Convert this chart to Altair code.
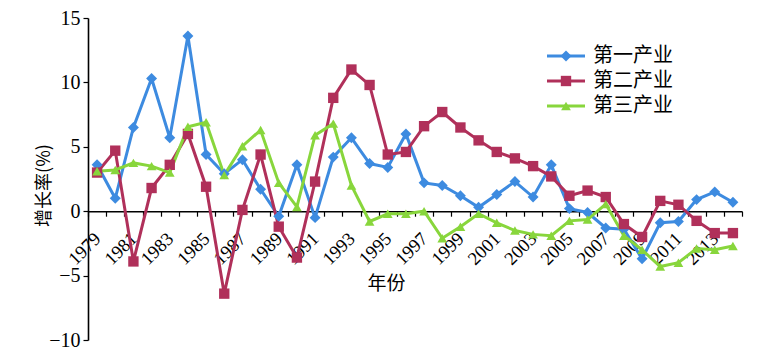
import altair as alt
import pandas as pd

years = list(range(1979, 2015))
primary = [3.6, 1.0, 6.5, 10.3, 5.7, 13.6, 4.4, 2.9, 4.0, 1.7, -0.4, 3.6, -0.5, 4.2, 5.7, 3.7,
           3.4, 6.0, 2.2, 2.0, 1.2, 0.3, 1.3, 2.3, 1.1, 3.6, 0.2, -0.1, -1.3, -1.4, -3.7, -0.9,
           -0.8, 0.9, 1.5, 0.7]
secondary = [3.0, 4.7, -3.9, 1.8, 3.6, 6.0, 1.9, -6.4, 0.1, 4.4, -1.2, -3.6, 2.3, 8.8, 11.0, 9.8,
             4.4, 4.6, 6.6, 7.7, 6.5, 5.5, 4.6, 4.1, 3.5, 2.7, 1.2, 1.6, 1.1, -1.0, -2.0, 0.8,
             0.5, -0.75, -1.7, -1.7]
tertiary = [3.1, 3.2, 3.75, 3.5, 3.0, 6.55, 6.9, 2.8, 5.05, 6.3, 2.2, 0.33, 5.9, 6.8, 2.0, -0.8,
            -0.2, -0.2, 0.0, -2.1, -1.2, -0.2, -0.9, -1.5, -1.8, -1.9, -0.75, -0.65, 0.55, -1.9,
            -3.0, -4.3, -4.0, -2.9, -3.0, -2.7]
names = ["第一产业", "第二产业", "第三产业"]
colors = ["#3D8BE0", "#B0305A", "#88D63C"]
shapes = ["diamond", "square", "triangle-up"]
marker_sizes = [120, 95, 170]
y_ticks = [-10, -5, 0, 5, 10, 15]

rows = []
for name, vals in zip(names, [primary, secondary, tertiary]):
    for yr, v in zip(years, vals):
        rows.append({"year": yr, "value": v, "series": name, "series_p": name})
df = pd.DataFrame(rows)

W, H = 654, 322
ymin, ymax = -10, 15
zero_off = -H * (0 - ymin) / (ymax - ymin)

SERIF = "Liberation Serif"
CJK = "Noto Sans CJK SC"

x_enc = alt.X(
    "year:O",
    scale=alt.Scale(type="band", paddingInner=0, paddingOuter=0),
    axis=alt.Axis(
        title="年份", titleFont=CJK, titleFontSize=19, titleFontWeight="normal",
        titleX=279, titleY=72, titleBaseline="middle", titleAnchor="start",
        offset=zero_off, labelAngle=-45, labelAlign="right", labelBaseline="middle",
        labelExpr="datum.value % 2 == 1 ? datum.label : ''",
        labelOverlap=False, labelBound=False, labelFont=SERIF, labelFontSize=18.5,
        labelColor="black", labelPadding=19, labelOffset=0,
        tickBand="extent", tickSize=5, tickColor="black", domainColor="black",
        domainWidth=1.6, tickWidth=1.2, grid=False,
    ),
)
y_enc = alt.Y(
    "value:Q",
    scale=alt.Scale(domain=[ymin, ymax], nice=False, zero=False),
    axis=alt.Axis(
        values=y_ticks, title="增长率(%)", titleFont=CJK, titleFontSize=18,
        titleFontWeight="normal", titleX=-44, titleY=167, titleAngle=-90,
        titleBaseline="middle", titleAlign="center",
        labelFont=SERIF, labelFontSize=20, labelColor="black", labelPadding=3,
        tickSize=5, tickColor="black", domainColor="black", domainWidth=1.6,
        tickWidth=1.2, grid=False,
    ),
)

LX, LY = 468, 28
line_legend = alt.Legend(
    orient="none", legendX=LX, legendY=LY, title=None, padding=0,
    symbolType="M-3.8,0H3.8", symbolSize=100, symbolStrokeWidth=3,
    labelOffset=17, labelFont=CJK, labelFontSize=20, labelColor="black",
    rowPadding=5,
)
mark_legend = alt.Legend(
    orient="none", legendX=LX, legendY=LY, title=None, padding=0,
    symbolSize=100, symbolStrokeWidth=0, symbolOpacity=1,
    labelOffset=17, labelFont=CJK, labelFontSize=20, labelOpacity=0,
    rowPadding=5,
)

lines = alt.Chart(df).mark_line(strokeWidth=3).encode(
    x=x_enc, y=y_enc,
    stroke=alt.Stroke("series:N", sort=names, scale=alt.Scale(range=colors),
                      legend=line_legend),
    detail="series:N",
)
points = alt.Chart(df).mark_point(filled=True, opacity=1).encode(
    x=x_enc, y=y_enc,
    color=alt.Color("series_p:N", scale=alt.Scale(domain=names, range=colors),
                    legend=mark_legend),
    shape=alt.Shape("series_p:N", scale=alt.Scale(domain=names, range=shapes),
                    legend=mark_legend),
    size=alt.Size("series_p:N", scale=alt.Scale(domain=names, range=marker_sizes),
                  legend=None),
)

chart = (
    alt.layer(lines, points)
    .properties(width=W, height=H, background="white",
                padding={"left": 88, "top": 18, "right": 16, "bottom": 16},
                autosize=alt.AutoSizeParams(type="none"))
    .configure_view(stroke=None)
)
chart.save("out.html", embed_options={"renderer": "svg", "actions": False})
